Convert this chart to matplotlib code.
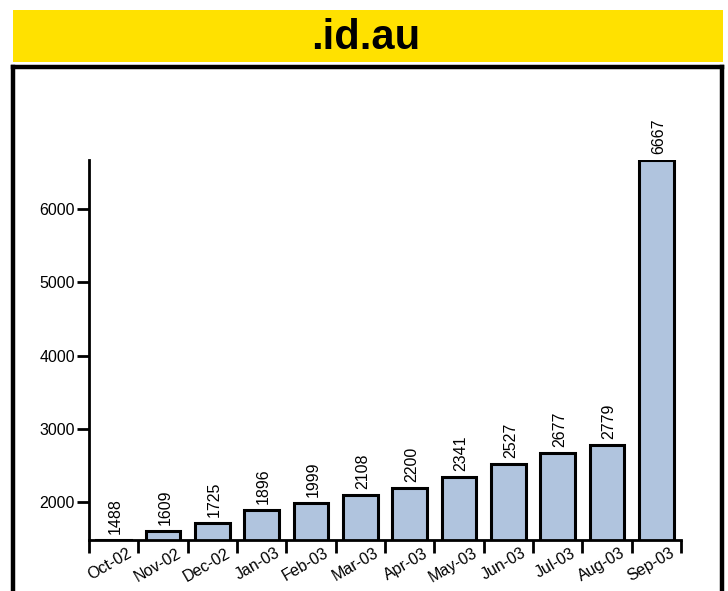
import numpy as np
import matplotlib.pyplot as plt
from matplotlib.patches import Rectangle
from matplotlib.lines import Line2D
from matplotlib.transforms import ScaledTranslation

months = ["Oct-02", "Nov-02", "Dec-02", "Jan-03", "Feb-03", "Mar-03",
          "Apr-03", "May-03", "Jun-03", "Jul-03", "Aug-03", "Sep-03"]
counts = [1488, 1609, 1725, 1896, 1999, 2108, 2200, 2341, 2527, 2677, 2779, 6667]
y_ticks = [2000, 3000, 4000, 5000, 6000]

W, H = 728, 591
plt.rcParams["font.family"] = ["Liberation Sans", "DejaVu Sans"]

fig = plt.figure(figsize=(W / 100, H / 100), dpi=100)


def fx(px):
    return px / W


def fy(py):
    return 1 - py / H


# yellow title band
fig.patches.append(Rectangle((fx(13), fy(62)), fx(710), 52 / H,
                             transform=fig.transFigure, facecolor="#ffe100",
                             edgecolor="none", zorder=0))
fig.text(fx(366), fy(38), ".id.au", ha="center", va="center",
         fontsize=30, fontweight="bold", color="black")

# black frame (open at the bottom)
for xs, ys in [([13, 13], [67, 600]), ([13, 722], [67, 67]), ([722, 722], [67, 600])]:
    fig.lines.append(Line2D([fx(x) for x in xs], [fy(y) for y in ys],
                            transform=fig.transFigure, color="black",
                            linewidth=3.2, solid_capstyle="projecting"))

ax = fig.add_axes([fx(89), fy(540), fx(681 - 89), (540 - 160) / H])
x = np.arange(len(months))
bars = ax.bar(x, counts, width=0.7, color="#b0c4de", edgecolor="black",
              linewidth=2.2, zorder=2)

ax.set_xlim(-0.5, len(months) - 0.5)
ax.set_ylim(1488, 6667)

for spine in ["top", "right"]:
    ax.spines[spine].set_visible(False)
for spine in ["left", "bottom"]:
    ax.spines[spine].set_linewidth(2)
ax.patch.set_visible(False)

ax.set_yticks(y_ticks)
ax.tick_params(axis="y", length=9, width=2, pad=1, labelsize=11.5)

# ticks on category boundaries, labels at centres
ax.set_xticks(np.arange(len(months) + 1) - 0.5)
ax.set_xticklabels([])
ax.tick_params(axis="x", which="major", length=9, width=2, direction="out")
ax.set_xticks(x, minor=True)
ax.set_xticklabels(months, minor=True, rotation=30, ha="right", va="top",
                   rotation_mode="anchor", fontsize=11.5)
ax.tick_params(axis="x", which="minor", length=0, pad=4)
offset = ScaledTranslation(13 / 100, 0, fig.dpi_scale_trans)
for lbl in ax.get_xticklabels(minor=True):
    lbl.set_transform(lbl.get_transform() + offset)

for xi, v in zip(x, counts):
    ax.annotate(str(v), (xi, v), xytext=(2, 6), textcoords="offset pixels",
                rotation=90, ha="center", va="bottom", fontsize=11.5,
                annotation_clip=False)

fig.savefig("out.png", dpi=100)
